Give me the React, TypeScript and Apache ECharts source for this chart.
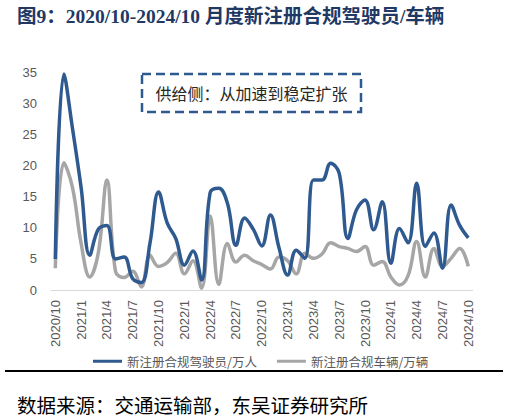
import React, { useEffect, useRef } from "react";
import * as echarts from "echarts";

const categories = [
  "2020/10", "2020/11", "2020/12",
  "2021/1", "2021/2", "2021/3", "2021/4", "2021/5", "2021/6", "2021/7", "2021/8", "2021/9", "2021/10", "2021/11", "2021/12",
  "2022/1", "2022/2", "2022/3", "2022/4", "2022/5", "2022/6", "2022/7", "2022/8", "2022/9", "2022/10", "2022/11", "2022/12",
  "2023/1", "2023/2", "2023/3", "2023/4", "2023/5", "2023/6", "2023/7", "2023/8", "2023/9", "2023/10", "2023/11", "2023/12",
  "2024/1", "2024/2", "2024/3", "2024/4", "2024/5", "2024/6", "2024/7", "2024/8", "2024/9", "2024/10",
];

const drivers = [
  5, 34.8, 26, 16.5, 5.6, 9.8, 10.4, 5, 5.3, 1.8, 1.2, 7.5,
  15.8, 10.8, 8.3, 4, 6.3, 1.6, 15.7, 16.4, 14, 7.2, 11.6, 9.8,
  7.1, 12.1, 6.8, 2.4, 6.4, 5.1, 17.7, 17.7, 20.4, 18.8, 8.3, 12.9,
  14.5, 9.7, 14.2, 4.3, 9.9, 7.6, 17.2, 7, 9.2, 3.5, 13.7, 10.4, 8.4,
];

const vehicles = [
  3.5, 20.5, 16.5, 7.5, 2.1, 6, 17.7, 3, 2, 3, 0.5, 5.6,
  3.8, 4.4, 5.9, 2.6, 4.7, 0.3, 11.9, 0.9, 7.5, 4.5, 5.6, 4.7,
  4.1, 3.4, 5.3, 4.7, 2.6, 5.9, 5.1, 5.8, 7.6, 7, 6.7, 6.2,
  7, 4, 4.6, 2.1, 0.8, 2.3, 7.8, 2.1, 6.7, 3.8, 5.1, 6.7, 3.8,
];

const seriesNames = ["新注册合规驾驶员/万人", "新注册合规车辆/万辆"];
const titleText = "图9：2020/10-2024/10 月度新注册合规驾驶员/车辆";
const noteText = "供给侧：从加速到稳定扩张";
const sourceText = "数据来源：交通运输部，东吴证券研究所";

const BLUE = "#2F5A8F";
const GRAY = "#A6A6A6";
const LABEL = "#595959";
const SANS = "'Liberation Sans', 'Noto Sans CJK SC', sans-serif";
const CJK = "'Noto Sans CJK SC', sans-serif";

export default function App() {
  const ref = useRef<HTMLDivElement>(null);

  useEffect(() => {
    if (!ref.current) return;
    const chart = echarts.init(ref.current, undefined, { renderer: "svg" });
    chart.setOption({
      animation: false,
      backgroundColor: "#ffffff",
      grid: { left: 51, right: 36.4, top: 72.7, bottom: 129, containLabel: false },
      legend: {
        left: 88,
        top: 350,
        itemWidth: 29,
        itemHeight: 3,
        itemGap: 20,
        icon: "rect",
        textStyle: { color: LABEL, fontSize: 12.5, fontFamily: CJK },
        data: seriesNames,
      },
      xAxis: {
        type: "category",
        data: categories,
        boundaryGap: true,
        axisLine: { lineStyle: { color: "#D9D9D9", width: 1 } },
        axisTick: { interval: 2, length: 5, lineStyle: { color: "#D9D9D9" } },
        axisLabel: {
          interval: 2,
          rotate: 90,
          margin: 10,
          color: LABEL,
          fontSize: 13,
          fontFamily: SANS,
        },
      },
      yAxis: {
        type: "value",
        min: 0,
        max: 35,
        interval: 5,
        splitLine: { show: false },
        axisLine: { show: false },
        axisTick: { show: false },
        axisLabel: { color: LABEL, fontSize: 13, fontFamily: SANS, margin: 14 },
      },
      series: [
        {
          name: seriesNames[0],
          type: "line",
          data: drivers,
          smooth: 0.4,
          showSymbol: false,
          lineStyle: { color: BLUE, width: 3.5 },
          itemStyle: { color: BLUE },
          z: 3,
        },
        {
          name: seriesNames[1],
          type: "line",
          data: vehicles,
          smooth: 0.4,
          showSymbol: false,
          lineStyle: { color: GRAY, width: 3.5 },
          itemStyle: { color: GRAY },
          z: 2,
        },
      ],
      graphic: [
        {
          type: "text",
          x: 17,
          y: 16,
          style: {
            text: titleText,
            fill: "#1F3864",
            font: "bold 19.5px 'Liberation Serif', 'Noto Sans CJK SC', serif",
            textVerticalAlign: "middle",
          },
        },
        {
          type: "rect",
          shape: { x: 142, y: 74, width: 219, height: 38 },
          style: { fill: "none", stroke: "#2F5A8F", lineWidth: 2.5, lineDash: [9, 5] },
          z: 10,
        },
        {
          type: "text",
          x: 251.5,
          y: 93,
          style: {
            text: noteText,
            fill: "#262626",
            fontSize: 16,
            fontFamily: CJK,
            textAlign: "center",
            textVerticalAlign: "middle",
          },
          z: 10,
        },
        {
          type: "line",
          shape: { x1: 5, y1: 371, x2: 503, y2: 371 },
          style: { stroke: "#000000", lineWidth: 2 },
        },
        {
          type: "text",
          x: 17,
          y: 404,
          style: {
            text: sourceText,
            fill: "#000000",
            fontSize: 19.5,
            fontFamily: CJK,
            textVerticalAlign: "middle",
          },
        },
      ],
    });
    return () => chart.dispose();
  }, []);

  return <div ref={ref} style={{ width: 509, height: 419, position: "absolute", left: 0, top: 0 }} />;
}
